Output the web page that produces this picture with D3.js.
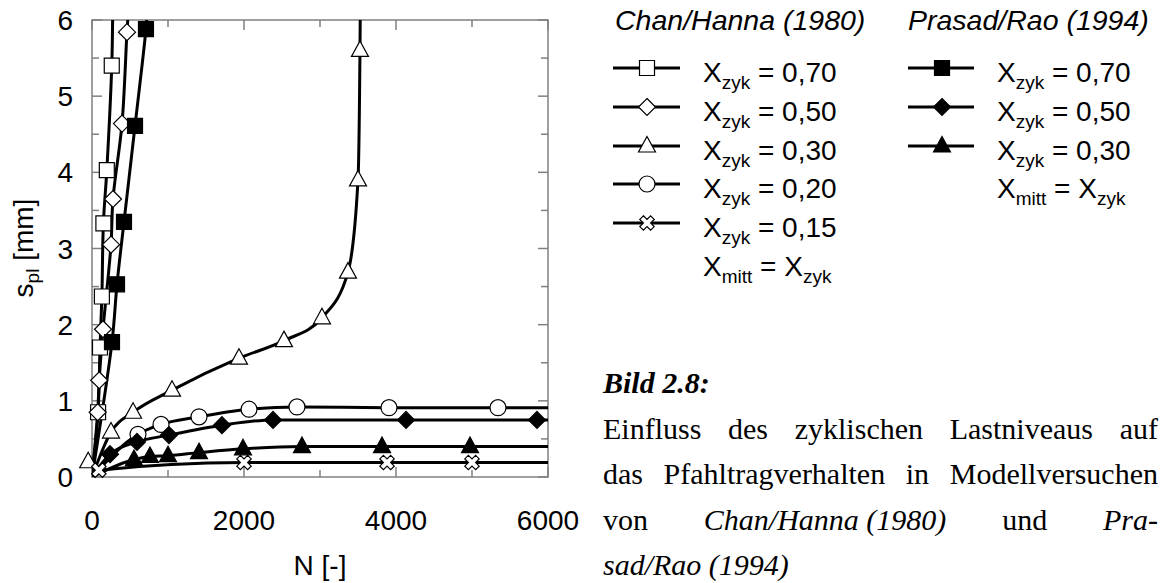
<!DOCTYPE html>
<html><head><meta charset="utf-8">
<script src="https://cdn.jsdelivr.net/npm/d3@7"></script>
<style>body{margin:0;background:#fff} svg{display:block}</style>
</head><body><svg id="c" width="1165" height="583"></svg>
<script>
// ---- data ----
const xTicks = [0, 2000, 4000, 6000];
const xMinor = [1000, 3000, 5000];
const yTicks = [0, 1, 2, 3, 4, 5, 6];
const yMinor = [0.5, 1.5, 2.5, 3.5, 4.5, 5.5];

// Chan/Hanna (1980)
const chan70 = [[80,0.85],[105,1.7],[130,2.37],[150,3.33],[195,4.03],[260,5.4]];
const chan70Tail = [[272,6.1]];
const chan50 = [[75,0.85],[95,1.27],[145,1.94],[250,3.05],[276,3.65],[395,4.64],[460,5.84]];
const chan50Tail = [[478,6.1]];
const chan30 = [[-50,0.2],[250,0.59],[540,0.85],[1053,1.14],[1934,1.56],[2526,1.79],[3026,2.09],[3368,2.69],[3500,3.9],[3526,5.6]];
const chan30Tail = [[3530,6.1]];
const chan20 = [[605,0.56],[908,0.69],[1408,0.79],[2066,0.89],[2697,0.92],[3908,0.91],[5342,0.91]];
const chan20Tail = [[6000,0.91]];
const chan15 = [[90,0.09],[2000,0.19],[3882,0.19],[5000,0.19]];
const chan15Tail = [[6000,0.19]];
// Prasad/Rao (1994)
const pras70 = [[263,1.77],[329,2.53],[421,3.35],[566,4.61],[710,5.88]];
const pras70Tail = [[724,6.1]];
const pras50 = [[237,0.30],[592,0.46],[1013,0.55],[1710,0.68],[2382,0.75],[4132,0.75],[5855,0.75]];
const pras50Tail = [[6000,0.75]];
const pras30 = [[553,0.23],[763,0.27],[1000,0.28],[1408,0.32],[1987,0.37],[2763,0.40],[3816,0.40],[4974,0.40]];
const pras30Tail = [[6000,0.40]];

const chanLabels = ["0,70","0,50","0,30","0,20","0,15"];
const prasLabels = ["0,70","0,50","0,30"];

// ---- layout ----
const svg = d3.select("#c");
const L = 92, R = 548, T = 20, B = 477;
const x = d3.scaleLinear().domain([0, 6000]).range([L, R]);
const y = d3.scaleLinear().domain([0, 6]).range([B, T]);
const FONT = "'Liberation Sans', Arial, sans-serif";
const SERIF = "'Liberation Serif', 'Times New Roman', serif";
const GRAY = "#808080";

// markers
function symPath(type) {
  switch (type) {
    case "square": return "M-7.5,-7.5H7.5V7.5H-7.5Z";
    case "diamond": return "M0,-8.5L8.5,0L0,8.5L-8.5,0Z";
    case "triangle": return "M0,-9.5L8.5,6L-8.5,6Z";
    case "circle": return d3.symbol(d3.symbolCircle, 201)();
    case "cross": return d3.symbol(d3.symbolCross, 130)();
  }
}
function drawMarker(g, type, filled, cx, cy) {
  g.append("path").attr("d", symPath(type))
    .attr("transform", `translate(${cx},${cy})` + (type === "cross" ? " rotate(45)" : ""))
    .attr("fill", filled ? "#000" : "#fff")
    .attr("stroke", "#000").attr("stroke-width", 1.2);
}

const series = [
  {pts: chan70, tail: chan70Tail, type: "square", filled: false, curve: d3.curveCatmullRom},
  {pts: chan50, tail: chan50Tail, type: "diamond", filled: false, curve: d3.curveCatmullRom},
  {pts: pras70, tail: pras70Tail, type: "square", filled: true, curve: d3.curveCatmullRom},
  {pts: chan30, tail: chan30Tail, type: "triangle", filled: false, curve: d3.curveMonotoneX},
  {pts: chan20, tail: chan20Tail, type: "circle", filled: false, curve: d3.curveMonotoneX},
  {pts: pras50, tail: pras50Tail, type: "diamond", filled: true, curve: d3.curveMonotoneX},
  {pts: pras30, tail: pras30Tail, type: "triangle", filled: true, curve: d3.curveMonotoneX},
  {pts: chan15, tail: chan15Tail, type: "cross", filled: false, curve: d3.curveMonotoneX},
];

svg.append("defs").append("clipPath").attr("id", "clip")
  .append("rect").attr("x", L).attr("y", T).attr("width", R - L).attr("height", B - T);

// frame
svg.append("rect").attr("x", L).attr("y", T).attr("width", R - L).attr("height", B - T)
  .attr("fill", "none").attr("stroke", GRAY).attr("stroke-width", 1.5);

// ticks (inward, all four sides)
const tk = svg.append("g").attr("stroke", GRAY).attr("stroke-width", 1.5);
xTicks.concat(xMinor).forEach(v => {
  const len = xTicks.includes(v) ? 10 : 7;
  tk.append("line").attr("x1", x(v)).attr("x2", x(v)).attr("y1", B).attr("y2", B - len);
  tk.append("line").attr("x1", x(v)).attr("x2", x(v)).attr("y1", T).attr("y2", T + len);
});
yTicks.concat(yMinor).forEach(v => {
  const len = yTicks.includes(v) ? 10 : 7;
  tk.append("line").attr("y1", y(v)).attr("y2", y(v)).attr("x1", L).attr("x2", L + len);
  tk.append("line").attr("y1", y(v)).attr("y2", y(v)).attr("x1", R).attr("x2", R - len);
});

// tick labels
svg.append("g").selectAll("text").data(xTicks).join("text")
  .attr("x", d => x(d)).attr("y", 530).attr("text-anchor", "middle")
  .attr("font-family", FONT).attr("font-size", 28).text(d => d);
svg.append("g").selectAll("text").data(yTicks).join("text")
  .attr("x", 73).attr("y", d => y(d) + 10).attr("text-anchor", "end")
  .attr("font-family", FONT).attr("font-size", 28).text(d => d);

// axis titles
svg.append("text").attr("x", (L + R) / 2).attr("y", 575).attr("text-anchor", "middle")
  .attr("font-family", FONT).attr("font-size", 28).text("N [-]");
const yl = svg.append("text").attr("transform", "translate(33,248) rotate(-90)")
  .attr("text-anchor", "middle").attr("font-family", FONT).attr("font-size", 28);
yl.append("tspan").text("s");
yl.append("tspan").attr("font-size", 19).attr("dy", 6).text("pl");
yl.append("tspan").attr("dy", -6).text(" [mm]");

// lines
const line = d3.line().x(d => x(d[0])).y(d => y(d[1]));
const lg = svg.append("g").attr("clip-path", "url(#clip)");
series.forEach(s => {
  const data = [[0, 0]].concat(s.pts.filter(p => p[0] >= 0), s.tail);
  lg.append("path").datum(data).attr("d", line.curve(s.curve))
    .attr("fill", "none").attr("stroke", "#000").attr("stroke-width", 3);
});
// markers
const mg = svg.append("g");
series.forEach(s => s.pts.forEach(p => drawMarker(mg, s.type, s.filled, x(p[0]), y(p[1]))));

// legend
function xzyk(g, tx, ty, val) {
  const t = g.append("text").attr("x", tx).attr("y", ty).attr("font-family", FONT).attr("font-size", 28);
  t.append("tspan").text("X");
  t.append("tspan").attr("font-size", 19).attr("dy", 7).text("zyk");
  t.append("tspan").attr("dy", -7).text(" = " + val);
}
function mittRow(g, tx, ty) {
  const t = g.append("text").attr("x", tx).attr("y", ty).attr("font-family", FONT).attr("font-size", 28);
  t.append("tspan").text("X");
  t.append("tspan").attr("font-size", 19).attr("dy", 7).text("mitt");
  t.append("tspan").attr("dy", -7).text(" = X");
  t.append("tspan").attr("font-size", 19).attr("dy", 7).text("zyk");
}
const leg = svg.append("g");
const rowY = [68, 107, 146, 184, 223, 262];
leg.append("text").attr("x", 615).attr("y", 30).attr("font-family", FONT).attr("font-size", 28.5)
  .attr("font-style", "italic").text("Chan/Hanna (1980)");
const chanTypes = ["square", "diamond", "triangle", "circle", "cross"];
chanLabels.forEach((lab, i) => {
  leg.append("line").attr("x1", 613).attr("x2", 680).attr("y1", rowY[i]).attr("y2", rowY[i])
    .attr("stroke", "#000").attr("stroke-width", 3);
  drawMarker(leg, chanTypes[i], false, 647, rowY[i]);
  xzyk(leg, 703, rowY[i] + 14, lab);
});
mittRow(leg, 703, rowY[5] + 14);

leg.append("text").attr("x", 908).attr("y", 30).attr("font-family", FONT).attr("font-size", 28.5)
  .attr("font-style", "italic").text("Prasad/Rao (1994)");
const prasTypes = ["square", "diamond", "triangle"];
prasLabels.forEach((lab, i) => {
  leg.append("line").attr("x1", 908).attr("x2", 974).attr("y1", rowY[i]).attr("y2", rowY[i])
    .attr("stroke", "#000").attr("stroke-width", 3);
  drawMarker(leg, prasTypes[i], true, 942, rowY[i]);
  xzyk(leg, 997, rowY[i] + 14, lab);
});
mittRow(leg, 997, rowY[3] + 14);

// caption
const CX0 = 603, CX1 = 1158, CFS = 30;
const cap = svg.append("g").attr("font-family", SERIF).attr("font-size", CFS);
function justifyLine(units, yy, justify) {
  const nodes = units.map(u => {
    const t = cap.append("text").attr("y", yy).text(u.t);
    if (u.i) t.attr("font-style", "italic");
    if (u.b) t.attr("font-weight", "bold");
    return t;
  });
  const widths = nodes.map(n => n.node().getComputedTextLength());
  const total = d3.sum(widths);
  const gap = justify && units.length > 1 ? (CX1 - CX0 - total) / (units.length - 1) : CFS * 0.25;
  let cx = CX0;
  nodes.forEach((n, i) => { n.attr("x", cx); cx += widths[i] + gap; });
}
justifyLine([{t: "Bild 2.8:", i: 1, b: 1}], 393, false);
justifyLine("Einfluss des zyklischen Lastniveaus auf".split(" ").map(t => ({t})), 439, true);
justifyLine("das Pfahltragverhalten in Modellversuchen".split(" ").map(t => ({t})), 484, true);
justifyLine([{t: "von"}, {t: "Chan/Hanna\u00a0(1980)", i: 1}, {t: "und"}, {t: "Pra-", i: 1}], 530, true);
justifyLine([{t: "sad/Rao (1994)", i: 1}], 575, false);
</script>
</body></html>
